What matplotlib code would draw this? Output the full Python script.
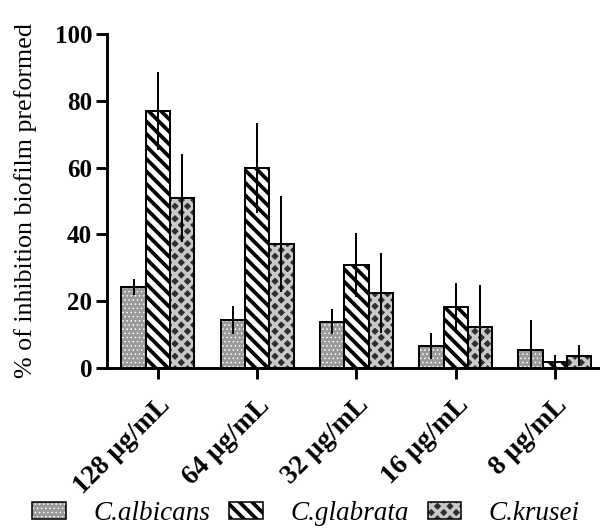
import matplotlib
matplotlib.use('Agg')
import matplotlib.pyplot as plt
from matplotlib.patches import Patch, Rectangle
from matplotlib.legend_handler import HandlerBase
import numpy as np

plt.rcParams['font.family'] = ['Liberation Serif', 'DejaVu Serif']

concs = ['128 µg/mL', '64 µg/mL', '32 µg/mL', '16 µg/mL', '8 µg/mL']
species = ['C.albicans', 'C.glabrata', 'C.krusei']

albicans = [24.2, 14.4, 13.9, 6.7, 5.4]
albicans_err = [2.4, 4.1, 3.7, 3.9, 9.0]
glabrata = [77.0, 59.9, 30.8, 18.2, 1.9]
glabrata_err = [11.6, 13.4, 9.6, 7.2, 2.0]
krusei = [50.9, 37.1, 22.4, 12.4, 3.7]
krusei_err = [13.1, 14.4, 12.0, 12.4, 3.2]

# fill, hatch, hatch colour, hatch width
styles = [
    ('#9a9a9a', '...', 'white', 0.8),
    ('white', '\\\\', 'black', 3.6),
    ('#303030', 'xx', '#c9c9c9', 3.4),
]


class HatchBox(HandlerBase):
    # legend box: hatched fill plus black outline
    def __init__(self, style):
        super().__init__()
        self.style = style

    def create_artists(self, legend, orig_handle, xdescent, ydescent, width, height,
                       fontsize, trans):
        fc, hatch, hc, hlw = self.style
        fill = Rectangle((-xdescent, -ydescent), width, height, facecolor=fc,
                         edgecolor=hc, hatch=hatch, linewidth=0, transform=trans)
        if hasattr(fill, 'set_hatch_linewidth'):
            fill.set_hatch_linewidth(hlw)
        edge = Rectangle((-xdescent, -ydescent), width, height, fill=False,
                         edgecolor='black', linewidth=1.5, transform=trans)
        return [fill, edge]


fig = plt.figure(figsize=(8, 529 / 75))
ax = fig.add_axes([0.178, 0.3043, 0.818, 0.6314])

x = np.arange(len(concs))
w = 0.245
values = [albicans, glabrata, krusei]
errors = [albicans_err, glabrata_err, krusei_err]

handles = []
hmap = {}
for i, (vals, errs) in enumerate(zip(values, errors)):
    fc, hatch, hc, hlw = styles[i]
    pos = x + (i - 1) * w
    bars = ax.bar(pos, vals, w, color=fc, edgecolor=hc, hatch=hatch, linewidth=0, zorder=2)
    for b in bars:
        if hasattr(b, 'set_hatch_linewidth'):
            b.set_hatch_linewidth(hlw)
    ax.bar(pos, vals, w, fill=False, edgecolor='black', linewidth=1.9, zorder=3)
    ax.errorbar(pos, vals, yerr=errs, fmt='none', ecolor='black', elinewidth=1.9,
                capsize=0, zorder=4)
    h = Patch(facecolor=fc)
    handles.append(h)
    hmap[h] = HatchBox(styles[i])

ax.set_xlim(-0.515, 4.43)
ax.set_ylim(0, 100)
ax.set_yticks([0, 20, 40, 60, 80, 100])
ax.set_yticklabels(['0', '20', '40', '60', '80', '100'], fontsize=24, fontweight='bold')
ax.set_xticks(x)
ax.set_xticklabels(concs, fontsize=26, fontweight='bold', rotation=45, ha='right',
                   rotation_mode='anchor')
ax.set_ylabel('% of inhibition biofilm preformed', fontsize=25, labelpad=17)

for side in ['top', 'right']:
    ax.spines[side].set_visible(False)
for side in ['left', 'bottom']:
    ax.spines[side].set_linewidth(2.8)
ax.tick_params(axis='both', direction='out', length=11, width=2.8, pad=3)
ax.tick_params(axis='x', pad=13)

fig.legend(handles, species, loc='center', bbox_to_anchor=(0.51, 0.029), ncol=3,
           frameon=False, handler_map=hmap,
           prop={'style': 'italic', 'size': 26}, handlelength=1.25, handleheight=0.6,
           columnspacing=0.7, handletextpad=1.0)

fig.savefig('out.png', dpi=75)
